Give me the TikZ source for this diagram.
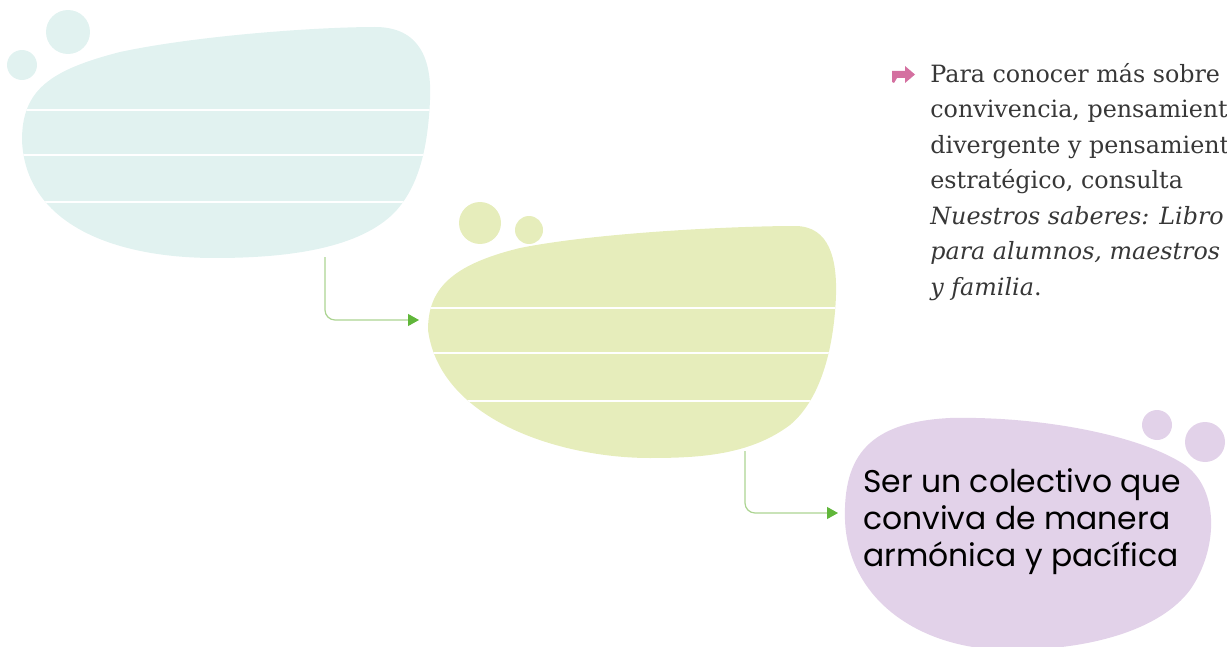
\documentclass[tikz,border=0pt]{standalone}
\usepackage{fontspec}
\setmainfont{DejaVu Serif}
\newfontfamily\handfont{Poppins}
\usepackage{tikz}
\usetikzlibrary{arrows.meta}
\definecolor{blobcyan}{RGB}{225,242,240}
\definecolor{blobgreen}{RGB}{230,237,187}
\definecolor{bloblilac}{RGB}{226,210,233}
\definecolor{linkgreen}{RGB}{172,212,146}
\definecolor{arrowgreen}{RGB}{96,182,58}
\definecolor{notepink}{RGB}{212,112,160}
\definecolor{notegray}{RGB}{55,55,55}

\begin{document}
\begin{tikzpicture}[x=0.5pt, y=-0.5pt,
    link/.style={draw=linkgreen, line width=0.6pt, rounded corners=5pt,
      -{Triangle[length=5.5pt, width=6pt, color=arrowgreen]}},
    ruled/.style={white, line width=0.8pt}]
    \useasboundingbox (0,0) rectangle (1227,647);

    \fill[blobcyan] (68,32) circle[radius=22];
    \fill[blobcyan] (22,65) circle[radius=15];
    \fill[blobcyan, path picture={\foreach \y in {110,155,202} \draw[ruled] (0,\y) -- (460,\y);}]
      (22,140) .. controls (22,90) and (50,70) .. (120,52)
      .. controls (200,35) and (320,27) .. (375,27)
      .. controls (420,27) and (432,60) .. (430,100)
      .. controls (428,145) and (420,185) .. (395,212)
      .. controls (360,248) and (290,258) .. (215,258)
      .. controls (110,258) and (25,222) .. (22,140) -- cycle;

    \fill[blobgreen] (480,223) circle[radius=21];
    \fill[blobgreen] (529,230) circle[radius=14];
    \fill[blobgreen, path picture={\foreach \y in {308,353,401} \draw[ruled] (400,\y) -- (860,\y);}]
      (428,330) .. controls (428,290) and (450,265) .. (520,248)
      .. controls (600,232) and (740,226) .. (795,226)
      .. controls (830,226) and (837,260) .. (836,295)
      .. controls (834,350) and (820,400) .. (790,425)
      .. controls (750,455) and (700,458) .. (650,458)
      .. controls (560,458) and (440,420) .. (428,330) -- cycle;

    \fill[bloblilac] (1157,425) circle[radius=15];
    \fill[bloblilac] (1205,442) circle[radius=20];
    \fill[bloblilac]
      (845,520) .. controls (843,455) and (870,422) .. (950,418)
      .. controls (1040,416) and (1140,435) .. (1185,465)
      .. controls (1220,490) and (1218,550) .. (1190,590)
      .. controls (1160,630) and (1090,650) .. (1010,650)
      .. controls (920,650) and (848,600) .. (845,520) -- cycle;

    \coordinate (outA) at (325,257);
    \coordinate (inB) at (419,320);
    \coordinate (outB) at (745,451);
    \coordinate (inC) at (838,513);
    \draw[link] (outA) |- (inB);
    \draw[link] (outB) |- (inC);

    \node[anchor=north west, inner sep=0pt, align=left, text=black,
      font=\handfont\fontsize{15.7}{18.5}\selectfont] (goal) at (863,468)
      {Ser un colectivo que\\conviva de manera\\armónica y pacífica};

    \fill[notepink] (892,71) -- (905,71) -- (905,66) -- (915,74.5) -- (905,83) -- (905,78)
      -- (897,78) -- (894,83) -- (892,82) -- cycle;
    \node[anchor=north west, inner sep=0pt, align=left, text=notegray,
      font=\fontsize{11.9}{17.75}\selectfont] (note) at (930,63)
      {Para conocer más sobre\\convivencia, pensamiento\\divergente y pensamiento\\estratégico, consulta\\
       \textit{Nuestros saberes: Libro}\\\textit{para alumnos, maestros}\\\textit{y familia}.};
\end{tikzpicture}
\end{document}
